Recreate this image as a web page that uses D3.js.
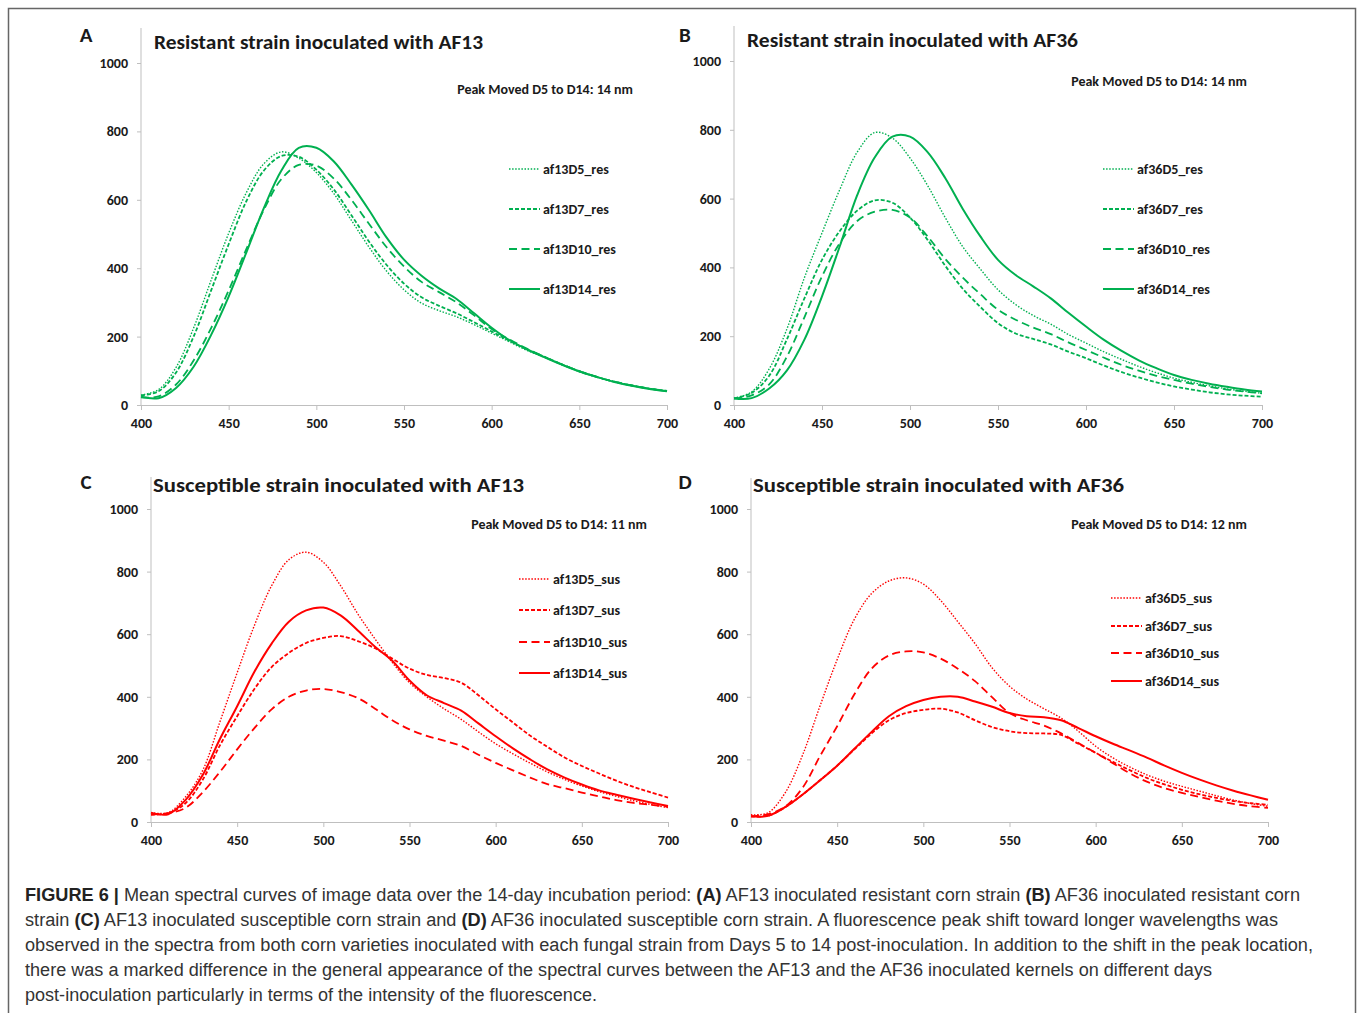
<!DOCTYPE html>
<html>
<head>
<meta charset="utf-8">
<script src="https://cdn.jsdelivr.net/npm/d3@7"></script>
<style>
  html, body { margin: 0; padding: 0; background: #fff; }
  svg { display: block; }
  .lbl { font-family: Carlito, Lato, "Open Sans", sans-serif; font-weight: bold; fill: #1a1a1a; }
  .cap { font-family: "Liberation Sans Narrow", "Liberation Sans", Arial, sans-serif; fill: #333; }
</style>
</head>
<body>
<svg id="fig" width="1358" height="1013"></svg>
<script>
// wavelengths (nm), one reading every 10 nm
const wavelengths = d3.range(400, 701, 10)
const yTicks = [0, 200, 400, 600, 800, 1000]
const xTicks = [400, 450, 500, 550, 600, 650, 700]

// A: resistant strain, AF13
const af13_res_D5  = [29,45,110,225,365,502,620,705,740,722,680,618,540,462,392,337,298,276,258,235,210,185,160,140,118,98,82,68,57,48,41]
const af13_res_D7  = [28,40,95,200,335,470,595,685,728,726,688,630,555,478,410,355,315,290,268,242,215,188,163,141,119,99,82,68,57,48,41]
const af13_res_D10 = [22,25,60,130,225,335,455,570,660,702,700,662,600,530,462,405,360,330,300,262,222,192,165,141,119,99,82,68,57,48,41]
const af13_res_D14 = [24,20,50,112,205,317,445,575,685,752,752,712,645,570,490,425,378,341,310,268,226,190,163,140,118,98,82,67,56,47,40]

// B: resistant strain, AF36
const af36_res_D5  = [20,38,105,220,370,500,625,735,792,776,718,638,545,460,395,335,292,260,235,205,180,155,133,112,94,78,66,56,47,40,34]
const af36_res_D7  = [19,35,85,190,310,422,505,565,595,588,545,480,405,338,285,238,208,192,176,155,136,115,96,80,66,54,45,37,31,27,24]
const af36_res_D10 = [19,28,60,140,255,374,470,535,562,567,545,490,425,370,322,277,248,225,206,182,160,138,117,100,85,73,62,53,45,39,34]
const af36_res_D14 = [19,20,48,100,190,316,460,610,720,780,780,735,660,570,490,422,378,345,310,268,228,190,158,130,107,87,73,62,53,45,39]

// C: susceptible strain, AF13
const af13_sus_D5  = [30,30,80,165,320,477,628,755,838,862,830,755,665,585,510,445,400,362,328,288,250,218,188,160,136,115,97,82,68,56,46]
const af13_sus_D7  = [24,28,60,135,245,338,425,495,540,572,588,594,578,555,522,490,470,460,445,405,360,318,276,240,206,179,155,132,112,95,78]
const af13_sus_D10 = [24,28,45,95,160,232,300,360,400,420,425,415,396,362,325,296,275,260,243,215,189,165,142,121,108,94,82,70,61,55,49]
const af13_sus_D14 = [30,25,70,150,265,370,480,570,640,676,685,660,612,560,515,452,405,380,356,315,274,235,200,168,142,120,101,87,74,62,51]

// D: susceptible strain, AF36
const af36_sus_D5  = [23,30,95,215,370,519,648,730,770,780,760,708,640,570,492,434,393,362,332,290,242,205,175,150,130,114,99,84,70,59,50]
const af36_sus_D7  = [18,20,48,88,133,180,232,283,325,348,358,362,350,325,303,290,284,283,278,250,221,192,165,140,120,103,89,77,67,60,55]
const af36_sus_D10 = [18,25,50,110,210,306,408,490,532,545,542,522,490,450,398,348,325,308,283,252,221,188,155,128,108,93,80,68,58,50,45]
const af36_sus_D14 = [18,20,48,88,133,180,234,288,338,370,390,400,400,385,368,348,338,335,325,300,274,250,228,205,180,157,136,117,100,85,71]

const dashes = ['1.5,1.6', '4,2', '8,4.5', null]
const widths = [1.4, 1.8, 1.8, 2]

const panels = [
  { letter: 'A', title: 'Resistant strain inoculated with AF13', peak: 'Peak Moved D5 to D14: 14 nm',
    names: ['af13D5_res', 'af13D7_res', 'af13D10_res', 'af13D14_res'],
    series: [af13_res_D5, af13_res_D7, af13_res_D10, af13_res_D14], color: '#00b050',
    x0: 141, x1: 667, y0: 405, y1: 63, top: 28, letterX: 86, letterY: 42, titleX: 154, titleY: 49, titleW: 329,
    peakX: 633, peakY: 94, legX: 509, legYs: [169, 209, 249, 289] },
  { letter: 'B', title: 'Resistant strain inoculated with AF36', peak: 'Peak Moved D5 to D14: 14 nm',
    names: ['af36D5_res', 'af36D7_res', 'af36D10_res', 'af36D14_res'],
    series: [af36_res_D5, af36_res_D7, af36_res_D10, af36_res_D14], color: '#00b050',
    x0: 734, x1: 1262, y0: 405, y1: 61, top: 26, letterX: 685, letterY: 42, titleX: 747, titleY: 47, titleW: 331,
    peakX: 1247, peakY: 86, legX: 1103, legYs: [169, 209, 249, 289] },
  { letter: 'C', title: 'Susceptible strain inoculated with AF13', peak: 'Peak Moved D5 to D14: 11 nm',
    names: ['af13D5_sus', 'af13D7_sus', 'af13D10_sus', 'af13D14_sus'],
    series: [af13_sus_D5, af13_sus_D7, af13_sus_D10, af13_sus_D14], color: '#ff0000',
    x0: 151, x1: 668, y0: 822, y1: 509, top: 477, letterX: 86, letterY: 489, titleX: 153, titleY: 492, titleW: 371,
    peakX: 647, peakY: 529, legX: 519, legYs: [579, 610, 642, 673] },
  { letter: 'D', title: 'Susceptible strain inoculated with AF36', peak: 'Peak Moved D5 to D14: 12 nm',
    names: ['af36D5_sus', 'af36D7_sus', 'af36D10_sus', 'af36D14_sus'],
    series: [af36_sus_D5, af36_sus_D7, af36_sus_D10, af36_sus_D14], color: '#ff0000',
    x0: 751, x1: 1268, y0: 822, y1: 509, top: 478, letterX: 685, letterY: 489, titleX: 753, titleY: 492, titleW: 371,
    peakX: 1247, peakY: 529, legX: 1111, legYs: [598, 626, 653, 681] }
]

const svg = d3.select('#fig')

// outer frame of the figure
svg.append('rect')
  .attr('x', 8.5).attr('y', 8.5)
  .attr('width', 1347).attr('height', 1030)
  .attr('fill', 'none')
  .attr('stroke', '#666')
  .attr('stroke-width', 1.5)

panels.forEach(p => {
  const g = svg.append('g')
  const x = d3.scaleLinear().domain([400, 700]).range([p.x0, p.x1])
  const y = d3.scaleLinear().domain([0, 1000]).range([p.y0, p.y1])

  // axes
  g.append('line')
    .attr('x1', p.x0).attr('x2', p.x0).attr('y1', p.top).attr('y2', p.y0)
    .attr('stroke', '#bfbfbf')

  const yAxis = g.append('g')
    .attr('transform', `translate(${p.x0},0)`)
    .call(d3.axisLeft(y).tickValues(yTicks).tickFormat(d3.format('d'))
      .tickSize(4).tickSizeOuter(0).tickPadding(9))
  yAxis.select('.domain').remove()

  const xAxis = g.append('g')
    .attr('transform', `translate(0,${p.y0})`)
    .call(d3.axisBottom(x).tickValues(xTicks).tickFormat(d3.format('d'))
      .tickSize(5).tickSizeOuter(0).tickPadding(8))
  xAxis.select('.domain').attr('stroke', '#bfbfbf')

  g.selectAll('.tick line').attr('stroke', '#bfbfbf')
  g.selectAll('.tick text')
    .attr('class', 'lbl')
    .style('font-size', '14px')
    .attr('fill', '#1a1a1a')

  // curves
  const line = d3.line()
    .x((d, i) => x(wavelengths[i]))
    .y(d => y(d))
    .curve(d3.curveCatmullRom.alpha(0.5))

  p.series.forEach((s, i) => {
    g.append('path')
      .datum(s)
      .attr('d', line)
      .attr('fill', 'none')
      .attr('stroke', p.color)
      .attr('stroke-width', widths[i])
      .attr('stroke-dasharray', dashes[i])
  })

  // legend
  p.names.forEach((n, i) => {
    g.append('line')
      .attr('x1', p.legX).attr('x2', p.legX + 31)
      .attr('y1', p.legYs[i]).attr('y2', p.legYs[i])
      .attr('stroke', p.color)
      .attr('stroke-width', widths[i])
      .attr('stroke-dasharray', dashes[i])
    g.append('text')
      .attr('class', 'lbl')
      .attr('x', p.legX + 34).attr('y', p.legYs[i] + 5)
      .style('font-size', '14px')
      .text(n)
  })

  // titles
  g.append('text').attr('class', 'lbl')
    .attr('x', p.letterX).attr('y', p.letterY)
    .attr('text-anchor', 'middle')
    .style('font-size', '21px')
    .text(p.letter)
  g.append('text').attr('class', 'lbl')
    .attr('x', p.titleX).attr('y', p.titleY)
    .attr('textLength', p.titleW)
    .attr('lengthAdjust', 'spacingAndGlyphs')
    .style('font-size', '21px')
    .text(p.title)
  g.append('text').attr('class', 'lbl')
    .attr('x', p.peakX).attr('y', p.peakY)
    .attr('text-anchor', 'end')
    .style('font-size', '14px')
    .text(p.peak)
})

// caption
const captionLines = [
  [['FIGURE 6 | ', true], ['Mean spectral curves of image data over the 14-day incubation period: ', false], ['(A)', true], [' AF13 inoculated resistant corn strain ', false], ['(B)', true], [' AF36 inoculated resistant corn', false]],
  [['strain ', false], ['(C)', true], [' AF13 inoculated susceptible corn strain and ', false], ['(D)', true], [' AF36 inoculated susceptible corn strain. A fluorescence peak shift toward longer wavelengths was', false]],
  [['observed in the spectra from both corn varieties inoculated with each fungal strain from Days 5 to 14 post-inoculation. In addition to the shift in the peak location,', false]],
  [['there was a marked difference in the general appearance of the spectral curves between the AF13 and the AF36 inoculated kernels on different days', false]],
  [['post-inoculation particularly in terms of the intensity of the fluorescence.', false]]
]
const captionEnds = [1300, 1278, 1313, 1212, 597]

captionLines.forEach((parts, i) => {
  const t = svg.append('text')
    .attr('class', 'cap')
    .attr('x', 25).attr('y', 901 + i * 25)
    .attr('textLength', captionEnds[i] - 25)
    .attr('lengthAdjust', 'spacingAndGlyphs')
    .style('font-size', '18px')
  parts.forEach(([s, b]) => {
    t.append('tspan')
      .attr('font-weight', b ? 'bold' : 'normal')
      .attr('fill', b ? '#222' : '#333')
      .text(s)
  })
})
</script>
</body>
</html>
